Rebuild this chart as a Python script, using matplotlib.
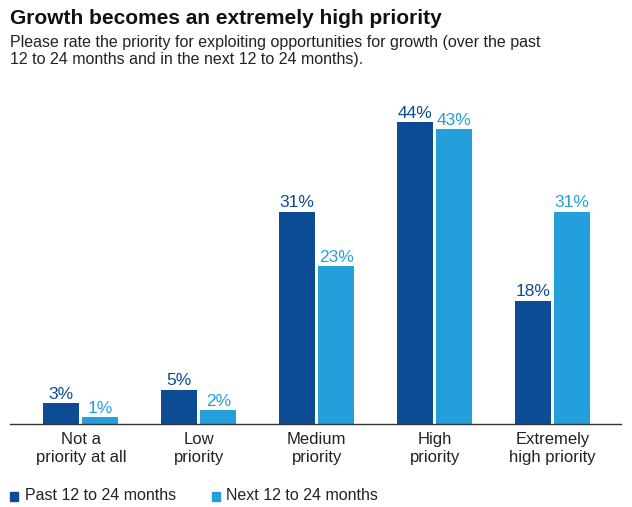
import matplotlib
matplotlib.use("Agg")
import matplotlib.pyplot as plt
import numpy as np
from matplotlib.patches import Rectangle

categories = ["Not a\npriority at all", "Low\npriority", "Medium\npriority", "High\npriority", "Extremely\nhigh priority"]
past = [3, 5, 31, 44, 18]
nxt = [1, 2, 23, 43, 31]
series_names = ["Past 12 to 24 months", "Next 12 to 24 months"]
title = "Growth becomes an extremely high priority"
subtitle = "Please rate the priority for exploiting opportunities for growth (over the past\n12 to 24 months and in the next 12 to 24 months)."

dark = "#0d4b94"
light = "#239fdc"
fam = ["Liberation Sans Narrow", "Liberation Sans", "DejaVu Sans"]
plt.rcParams['font.family'] = fam

W, H = 632, 507
fig = plt.figure(figsize=(W/100, H/100), dpi=100)
ax = fig.add_axes([10/W, 1-424/H, (621-10)/W, (424-95)/H])

x = np.arange(len(categories))
bw = 0.305
off = 0.165
ax.bar(x - off, past, bw, color=dark)
ax.bar(x + off, nxt, bw, color=light)
for xi, v in zip(x, past):
    ax.text(xi - off, v + 0.2, f"{v}%", ha="center", va="bottom", color=dark, fontsize=12.5)
for xi, v in zip(x, nxt):
    ax.text(xi + off, v + 0.2, f"{v}%", ha="center", va="bottom", color=light, fontsize=12.5)

ax.set_xlim(-0.60, 4.58)
ax.set_ylim(0, 48)
for s in ["top", "right", "left"]:
    ax.spines[s].set_visible(False)
ax.spines["bottom"].set_color("#333333")
ax.spines["bottom"].set_linewidth(1.0)
ax.set_yticks([])
ax.set_xticks(x)
ax.set_xticklabels(categories, fontsize=12, color="#222222", linespacing=1.2)
ax.tick_params(axis="x", length=0, pad=6)

fig.text(10/W, 1-18/H, title, fontsize=15, fontweight="bold", va="center", ha="left", color="#111111")
fig.text(10/W, 1-35/H, subtitle, fontsize=11.5, va="top", ha="left", color="#222222", linespacing=1.2)

# legend
ly = 1 - 496/H
fig.patches.append(Rectangle((10/W, ly - 4.5/H), 8/W, 9/H, transform=fig.transFigure, color=dark))
fig.text(25/W, ly, series_names[0], fontsize=11.5, va="center", ha="left", color="#222222")
fig.patches.append(Rectangle((212/W, ly - 4.5/H), 8/W, 9/H, transform=fig.transFigure, color=light))
fig.text(226/W, ly, series_names[1], fontsize=11.5, va="center", ha="left", color="#222222")

fig.savefig("out.png", dpi=100)
